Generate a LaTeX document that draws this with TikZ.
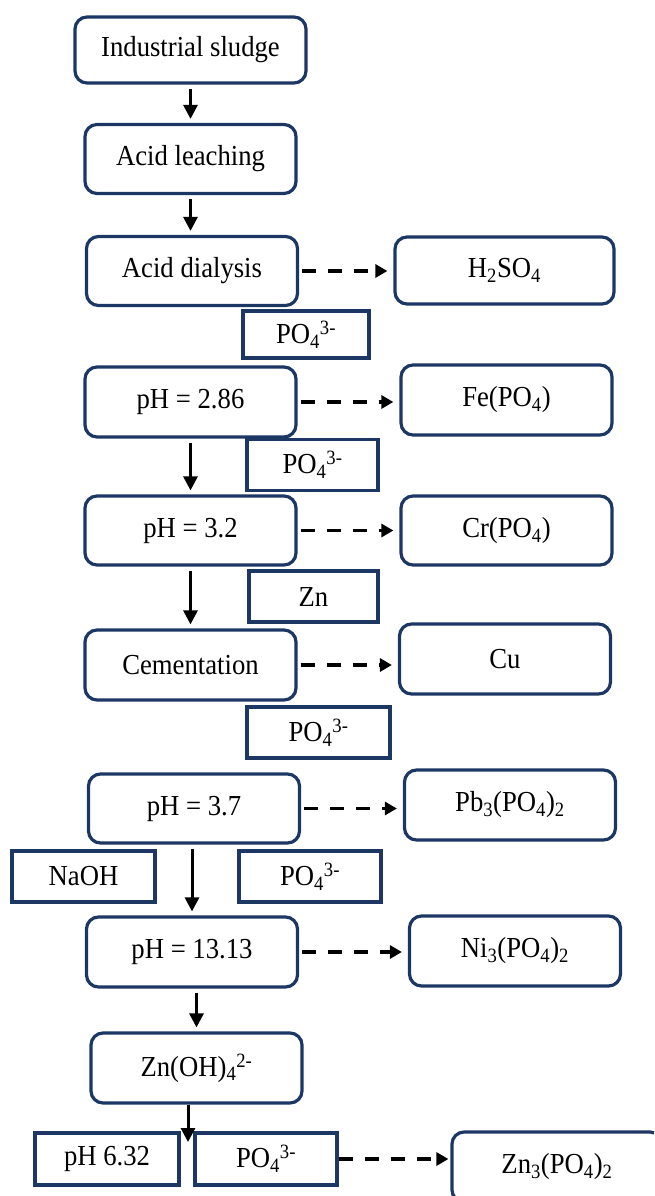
\documentclass[tikz,border=0pt]{standalone}
\usepackage{fontspec}
\setmainfont[FakeStretch=0.92]{Liberation Serif}
\usetikzlibrary{arrows.meta}
\definecolor{boxblue}{RGB}{28,55,100}

\begin{document}
\begin{tikzpicture}[x=1pt, y=-1pt,
  font=\fontsize{29}{33}\selectfont,
  stepbox/.style={draw=boxblue, line width=3.2pt, rounded corners=12pt, minimum width=211pt, minimum height=69pt, inner sep=2pt},
  addbox/.style={draw=boxblue, line width=3.2pt, minimum height=51pt, inner sep=2pt},
  flow/.style={-{Triangle[length=14pt,width=14pt]}, line width=3pt, shorten <=4pt, shorten >=4pt},
  side/.style={-{Triangle[length=12pt,width=13pt]}, line width=3.5pt, dash pattern=on 14pt off 12pt, shorten <=3pt, shorten >=6pt}]

\useasboundingbox (0,0) rectangle (654,1196);
\clip (0,0) rectangle (654,1196);

% Main process
\node[stepbox, minimum width=231pt, minimum height=66pt] (sludge) at (190.5,50) {Industrial sludge};
\node[stepbox] (leach) at (190.5,159) {Acid leaching};
\node[stepbox] (dialysis) at (192,271) {Acid dialysis};
\node[stepbox, minimum height=70pt] (ph1) at (190.5,402) {pH = 2.86};
\node[stepbox] (ph2) at (190.5,530.5) {pH = 3.2};
\node[stepbox, minimum height=70pt] (cement) at (190.5,665) {Cementation};
\node[stepbox] (ph3) at (194,808.5) {pH = 3.7};
\node[stepbox, minimum height=70pt] (ph4) at (192,952) {pH = 13.13};
\node[stepbox, minimum height=70pt] (zincate) at (196.5,1068) {Zn(OH)\textsubscript{4}\textsuperscript{2-}};

% Reagents
\node[addbox, minimum width=126pt, minimum height=47pt] (po1) at (306,334.5) {PO\textsubscript{4}\textsuperscript{3-}};
\node[addbox, minimum width=131pt] (po2) at (312.5,465) {PO\textsubscript{4}\textsuperscript{3-}};
\node[addbox, minimum width=129pt] (zn) at (313.5,596.5) {Zn};
\node[addbox, minimum width=143pt] (po3) at (318.5,732.5) {PO\textsubscript{4}\textsuperscript{3-}};
\node[addbox, minimum width=143pt] (naoh) at (83.5,876.5) {NaOH};
\node[addbox, minimum width=142pt] (po4) at (310,876.5) {PO\textsubscript{4}\textsuperscript{3-}};
\node[addbox, minimum width=144pt, minimum height=52pt] (ph5) at (107,1159) {pH 6.32};
\node[addbox, minimum width=142pt, minimum height=52pt] (po5) at (266,1159) {PO\textsubscript{4}\textsuperscript{3-}};

% Products
\node[stepbox, minimum width=219pt, minimum height=67pt] (h2so4) at (504.5,270.5) {H\textsubscript{2}SO\textsubscript{4}};
\node[stepbox, minimum height=70pt] (fe) at (506.5,400) {Fe(PO\textsubscript{4})};
\node[stepbox] (cr) at (506.5,530.5) {Cr(PO\textsubscript{4})};
\node[stepbox, minimum height=70pt] (cu) at (505,659) {Cu};
\node[stepbox, minimum height=70pt] (pb) at (510,805) {Pb\textsubscript{3}(PO\textsubscript{4})\textsubscript{2}};
\node[stepbox, minimum height=70pt] (ni) at (515,951) {Ni\textsubscript{3}(PO\textsubscript{4})\textsubscript{2}};
\node[stepbox, minimum width=210pt, minimum height=70pt] (zn3) at (557,1167) {Zn\textsubscript{3}(PO\textsubscript{4})\textsubscript{2}};

% Arrows
\draw[flow] (sludge) -- (leach);
\draw[flow] (leach) -- (dialysis.north -| leach);
\draw[flow] (ph1) -- (ph2);
\draw[flow] (ph2) -- (cement);
\draw[flow] (ph3.south -| ph4) -- (ph4.north);
\draw[flow] (ph4.south -| zincate) -- (zincate.north);
\coordinate (mix) at (188,1146);
\draw[flow, shorten <=0pt] (zincate.south -| mix) -- (mix);

% Separated products
\draw[side] (dialysis) -- (dialysis -| h2so4.west);
\draw[side] (ph1) -- (ph1 -| fe.west);
\draw[side] (ph2) -- (ph2 -| cr.west);
\draw[side] (cement) -- (cement -| cu.west);
\draw[side] (ph3) -- (ph3 -| pb.west);
\draw[side] (ph4) -- (ph4 -| ni.west);
\draw[side, shorten <=0pt, shorten >=2pt] (po5) -- (po5 -| zn3.west);
\end{tikzpicture}
\end{document}
